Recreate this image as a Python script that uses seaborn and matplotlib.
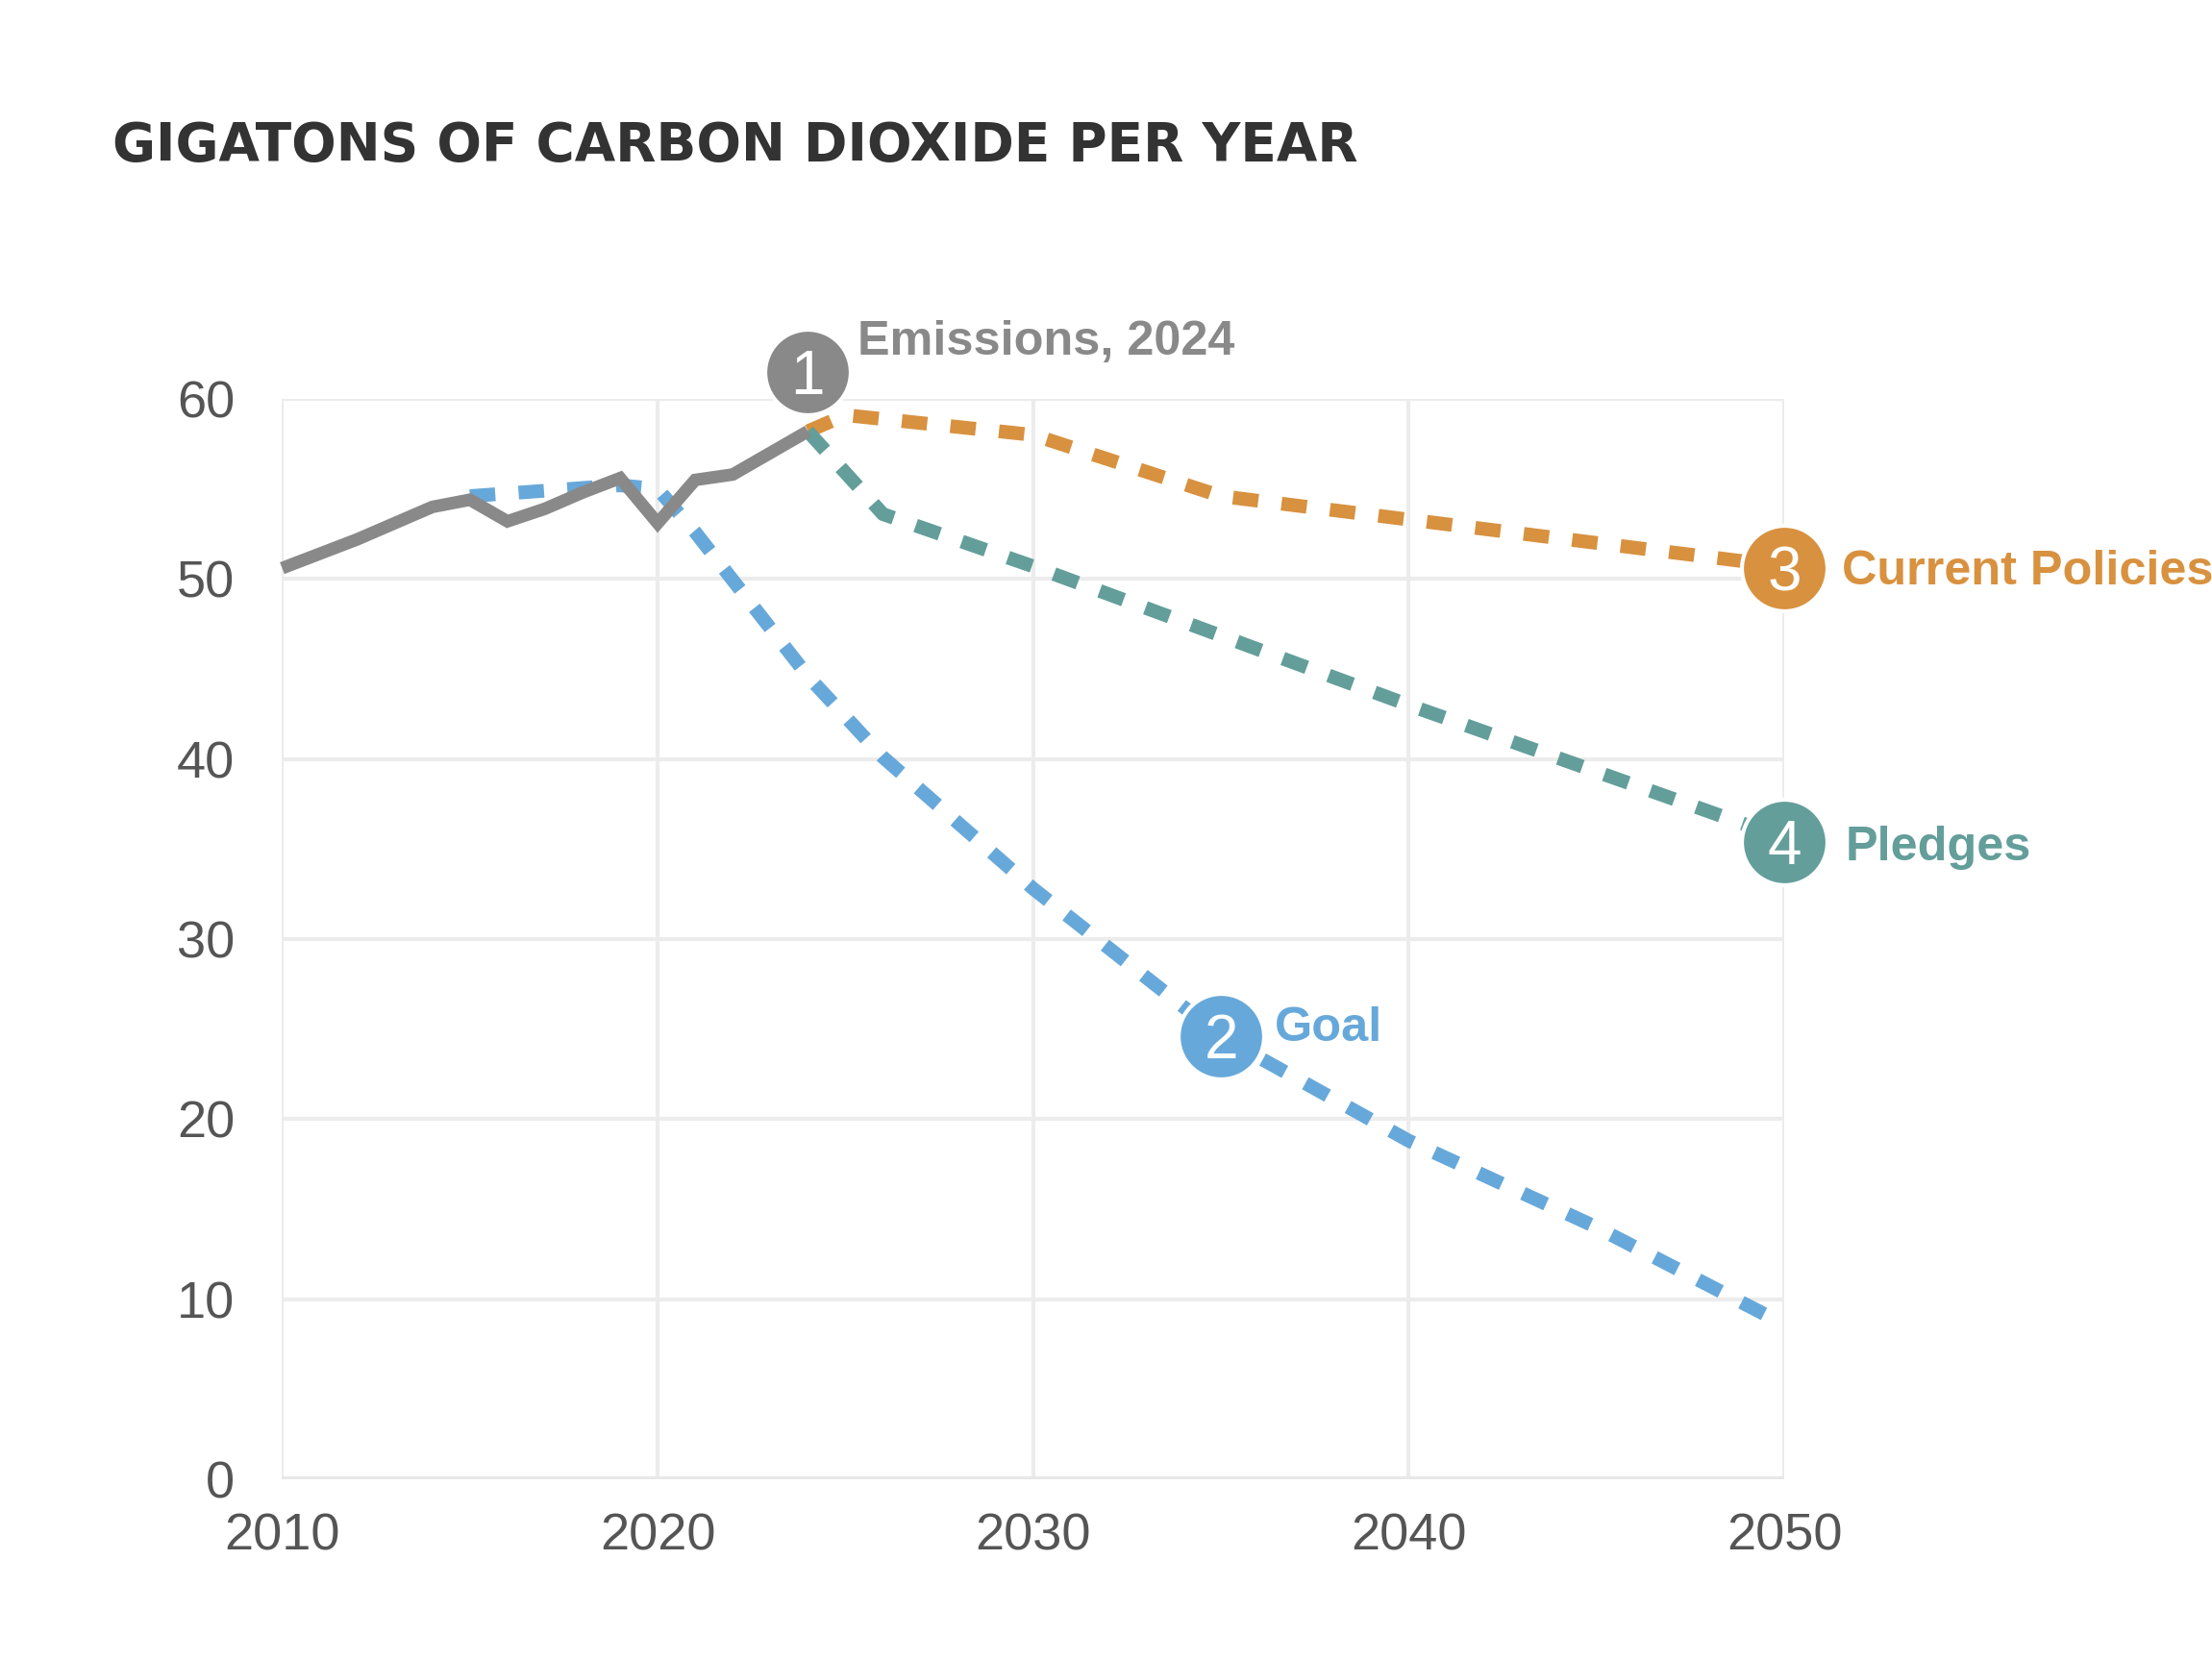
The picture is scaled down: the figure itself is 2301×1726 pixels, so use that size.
import matplotlib
matplotlib.use("Agg")
import matplotlib.pyplot as plt
import seaborn as sns
import pandas as pd

# ---------------- data ----------------
hist_years = list(range(2010, 2025))
hist_values = [50.6, 51.4, 52.2, 53.1, 54.0, 54.4, 53.2, 53.9, 54.8, 55.6,
               53.1, 55.5, 55.8, 57.0, 58.2]

goal_years = [2015, 2017, 2019, 2020, 2021, 2024, 2026, 2030, 2035, 2040, 2045, 2050]
goal_values = [54.6, 54.9, 55.2, 55.0, 52.6, 44.6, 40.1, 32.8, 24.6, 18.8, 14.0, 8.6]

policy_years = [2024, 2025, 2030, 2035, 2040, 2050]
policy_values = [58.2, 59.1, 58.0, 54.6, 53.3, 50.7]

pledge_years = [2024, 2026, 2030, 2040, 2050]
pledge_values = [58.2, 53.6, 50.7, 43.0, 35.6]

label_numbers = ["1", "2", "3", "4"]
label_texts = ["Emissions, 2024", "Goal", "Current Policies", "Pledges"]
label_years = [2024, 2035, 2050, 2050]
label_values = [61.5, 24.6, 50.6, 35.4]

x_ticks = [2010, 2020, 2030, 2040, 2050]
y_ticks = [0, 10, 20, 30, 40, 50, 60]
title = "GIGATONS OF CARBON DIOXIDE PER YEAR"

# ---------------- style ----------------
GRAY = "#898989"
BLUE = "#67a8da"
ORANGE = "#d8913f"
TEAL = "#639e9a"
label_colors = [GRAY, BLUE, ORANGE, TEAL]

sns.set_style("white")
plt.rcParams["font.family"] = ["Liberation Sans", "DejaVu Sans"]

fig = plt.figure(figsize=(23.01, 17.26), dpi=100)
ax = fig.add_axes([0.12755, 0.10834, 0.67906, 0.65122])

hist = pd.DataFrame({"year": hist_years, "value": hist_values})
goal = pd.DataFrame({"year": goal_years, "value": goal_values})
policy = pd.DataFrame({"year": policy_years, "value": policy_values})
pledge = pd.DataFrame({"year": pledge_years, "value": pledge_values})

LW = 10.3
DASH = (1.85, 1.7)

def dashed(df, color, z):
    sns.lineplot(data=df, x="year", y="value", ax=ax, color=color,
                 linewidth=LW, sort=False, zorder=z)
    ln = ax.lines[-1]
    ln.set_dashes(DASH)
    ln.set_dash_capstyle("butt")
    ln.set_clip_on(False)

dashed(goal, BLUE, 3)
dashed(policy, ORANGE, 4)
dashed(pledge, TEAL, 4.5)

sns.lineplot(data=hist, x="year", y="value", ax=ax, color=GRAY,
             linewidth=9.4, sort=False, zorder=5)
hl = ax.lines[-1]
hl.set_solid_capstyle("butt")
hl.set_solid_joinstyle("miter")
hl.set_clip_on(False)

# numbered circles and labels
text_offsets = [(37, 13), (40, -3.6), (43, -12.5), (46, -13.7)]
for num, txt, xv, yv, col, toff in zip(label_numbers, label_texts, label_years,
                                         label_values, label_colors, text_offsets):
    ax.plot([xv], [yv], marker="o", linestyle="none", markersize=64,
            markerfacecolor=col, markeredgecolor="white", markeredgewidth=3,
            clip_on=False, zorder=6)
    ax.annotate(num, (xv, yv), xytext=(0, -16.5), textcoords="offset points",
                ha="center", va="baseline", color="white", fontsize=46,
                zorder=7, annotation_clip=False)
    ax.annotate(txt, (xv, yv), xytext=toff, textcoords="offset points",
                ha="left", va="baseline", color=col, fontsize=36.3,
                fontweight="bold", zorder=7, annotation_clip=False)

# axes
ax.set_xlim(2010, 2050)
ax.set_ylim(0, 60)
ax.set_xticks(x_ticks)
ax.set_yticks(y_ticks)
ax.set_xticklabels([str(v) for v in x_ticks])
ax.set_yticklabels([str(v) for v in y_ticks])
ax.set_xlabel("")
ax.set_ylabel("")
for s in ax.spines.values():
    s.set_visible(False)
ax.grid(True, color="#ececec", linewidth=3, zorder=0)
ax.set_axisbelow(True)
ax.axhline(0, color="#e8e8e8", linewidth=4.5, zorder=1)

ax.tick_params(axis="x", length=19, width=1.5, color="#cccccc", pad=6,
               labelsize=39, labelcolor="#555555")
ax.tick_params(axis="y", length=0, pad=35.6, labelsize=39, labelcolor="#555555")

fig.text(117 / 2301, 1 - 167 / 1726, title, ha="left", va="baseline",
         fontsize=39.5, fontweight="bold", color="#333333",
         family=["DejaVu Sans"])

fig.savefig("out.png", dpi=100, facecolor="white")
